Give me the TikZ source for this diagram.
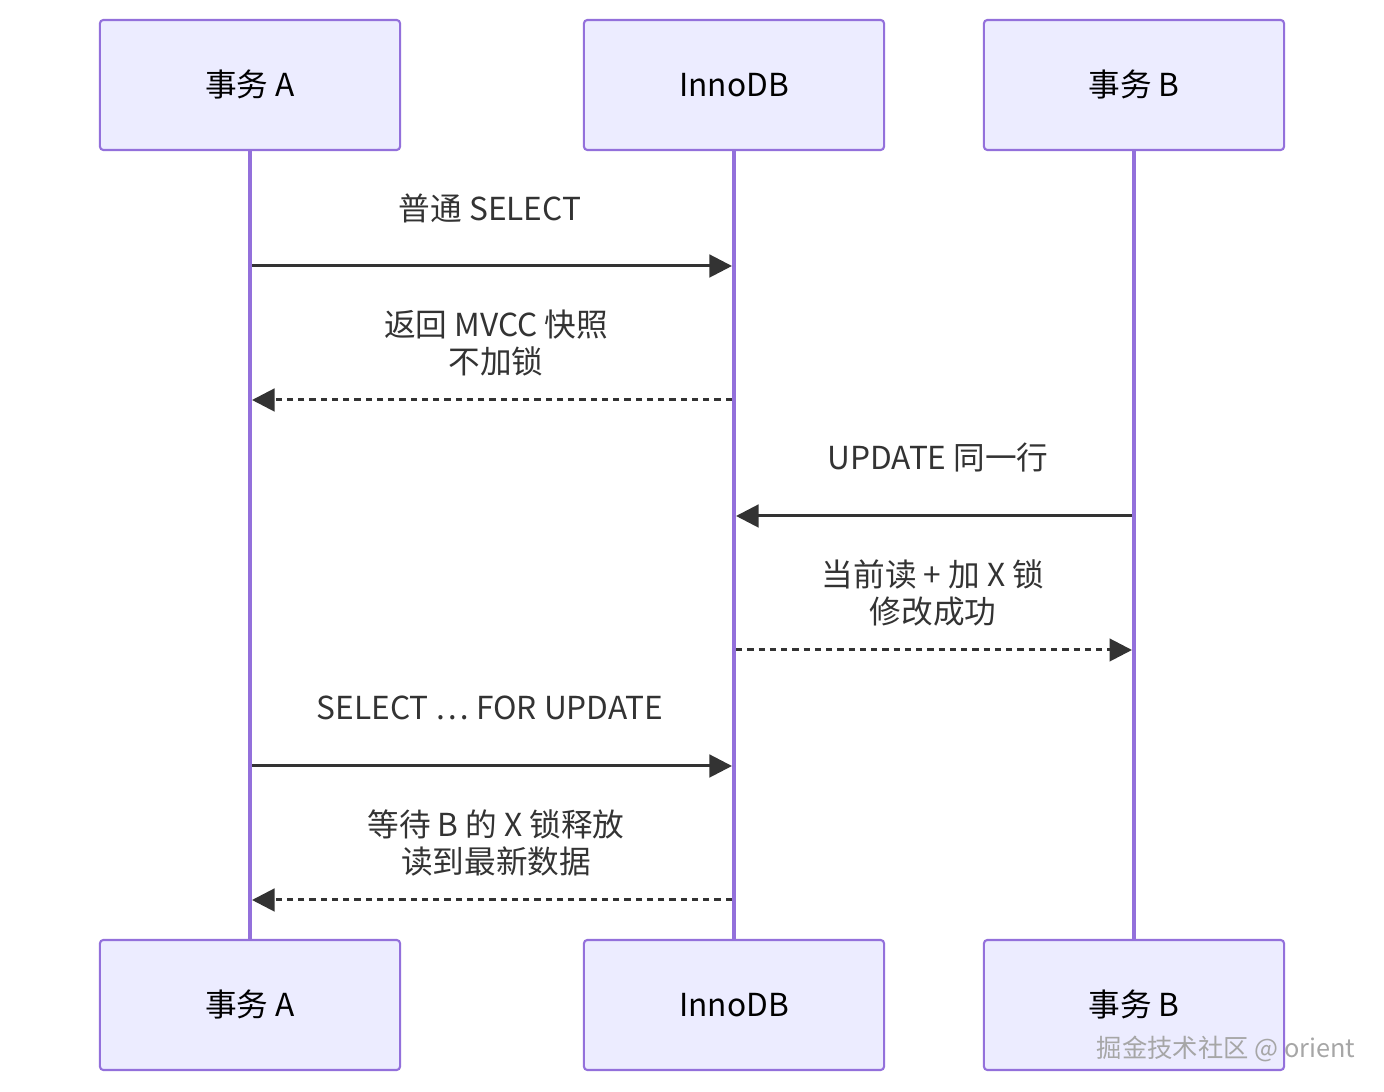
\documentclass[tikz,border=0pt]{standalone}
\usepackage{fontspec}
\setmainfont{Noto Sans CJK SC}
\usetikzlibrary{arrows.meta}
\definecolor{actfill}{HTML}{ECECFF}
\definecolor{actline}{HTML}{9370DB}
\definecolor{msgcol}{HTML}{333333}
\begin{document}
\begin{tikzpicture}[x=0.01cm, y=-0.01cm]
\tikzset{acteur/.style={draw=actline, fill=actfill, line width=0.6pt, rounded corners=1pt, minimum width=3cm, minimum height=1.3cm, font=\fontsize{9}{11}\selectfont, text=black},
  vie/.style={draw=actline, line width=1.1pt},
  msg/.style={draw=msgcol, line width=0.85pt, -{Triangle[length=6.4pt, width=6.4pt]}},
  rep/.style={msg, dash pattern=on 1.8pt off 1.4pt},
  etiq/.style={text=msgcol, font=\fontsize{9}{10.6}\selectfont, align=center}}
\useasboundingbox (0, 0) rectangle (1384, 1092);
\node[acteur] (A1) at (250, 85) {事务 A};
\node[acteur] (I1) at (734, 85) {InnoDB};
\node[acteur] (B1) at (1134, 85) {事务 B};
\node[acteur] (A2) at (250, 1005) {事务 A};
\node[acteur] (I2) at (734, 1005) {InnoDB};
\node[acteur] (B2) at (1134, 1005) {事务 B};
\draw[vie] (A1) -- (A2);
\draw[vie] (I1) -- (I2);
\draw[vie] (B1) -- (B2);
\coordinate (A3) at (252, 266); \coordinate (I3) at (732, 266);
\coordinate (I4) at (732, 400); \coordinate (A4) at (252, 400);
\coordinate (B5) at (1132, 516); \coordinate (I5) at (736, 516);
\coordinate (I6) at (736, 650); \coordinate (B6) at (1132, 650);
\coordinate (A7) at (252, 766); \coordinate (I7) at (732, 766);
\coordinate (I8) at (732, 900); \coordinate (A8) at (252, 900);
\draw[msg] (A3) -- (I3);
\draw[rep] (I4) -- (A4);
\draw[msg] (B5) -- (I5);
\draw[rep] (I6) -- (B6);
\draw[msg] (A7) -- (I7);
\draw[rep] (I8) -- (A8);
\node[etiq] (L1) at (490, 208) {普通 SELECT};
\node[etiq] (L2) at (496, 343) {返回 MVCC 快照\\不加锁};
\node[etiq] (L3) at (938, 458) {UPDATE 同一行};
\node[etiq] (L4) at (933, 593) {当前读 + 加 X 锁\\修改成功};
\node[etiq] (L5) at (490, 708) {SELECT … FOR UPDATE};
\node[etiq] (L6) at (496, 843) {等待 B 的 X 锁释放\\读到最新数据};
\node[text=gray!70, font=\fontsize{7.2}{9}\selectfont] (W) at (1226, 1049) {掘金技术社区 @ orient};
\end{tikzpicture}
\end{document}
